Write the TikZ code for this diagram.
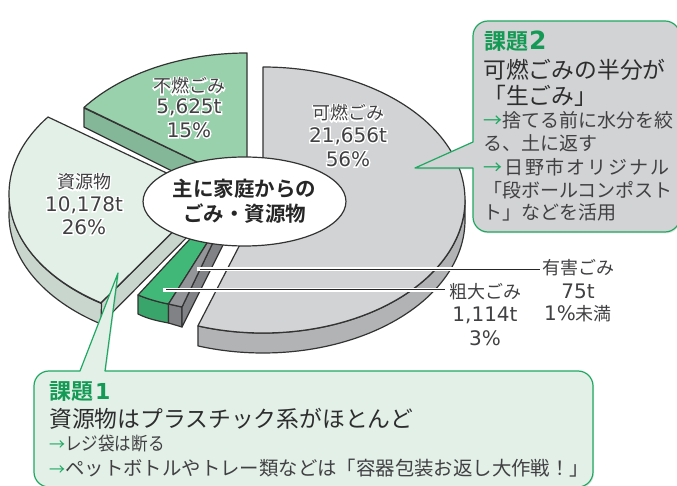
\documentclass[tikz,border=0pt]{standalone}
\usepackage{fontspec}
\usetikzlibrary{shadows,shapes.geometric}
\setmainfont{Noto Sans CJK JP}
\newfontfamily\halofont[FakeBold=14]{Noto Sans CJK JP}
\newfontfamily\halonum[FakeBold=14]{DejaVu Sans}
\newfontfamily\numfont{DejaVu Sans}
\newfontfamily\boldcjk{Noto Sans CJK JP Bold}
\newfontfamily\boldnum{DejaVu Sans Bold}
\definecolor{edge}{HTML}{333333}
\definecolor{ink}{HTML}{414042}
\definecolor{callgreen}{HTML}{1FA862}
\definecolor{titlegreen}{HTML}{149A55}
\definecolor{burnT}{HTML}{D1D3D4}
\definecolor{burnS}{HTML}{B1B3B5}
\definecolor{nonT}{HTML}{99D1AC}
\definecolor{nonS}{HTML}{84B797}
\definecolor{resT}{HTML}{E2F0E7}
\definecolor{resS}{HTML}{C9D6CD}
\definecolor{bigT}{HTML}{41B877}
\definecolor{bigS}{HTML}{3AA56B}
\definecolor{hazT}{HTML}{939598}
\definecolor{hazS}{HTML}{808285}
\newcommand\hl[1]{\makebox[0pt][c]{\color{white}\halofont #1}\makebox[0pt][c]{#1}}
\newcommand\hn[1]{\makebox[0pt][c]{\color{white}\halonum\fontsize{20}{20}\selectfont #1}\makebox[0pt][c]{\numfont\fontsize{20}{20}\selectfont #1}}
\newcommand\nm[1]{{\numfont\fontsize{20}{20}\selectfont #1}}
\newcommand\garrow{{\color{callgreen}→}}
\newcommand\sarrow{\makebox[16pt][l]{\color{callgreen}\fontsize{16}{16}\selectfont →}}
\tikzset{
  slice/.style={draw=edge,line width=1.2pt,line join=round},
  callout/.style={draw=callgreen,line width=1.2pt,line join=round,
    drop shadow={opacity=.18,shadow xshift=1pt,shadow yshift=-1.5pt}},
  pielabel/.style={text=ink,inner sep=0pt,anchor=center,font=\fontsize{18}{18}\selectfont},
  sidelabel/.style={text=ink,inner sep=0pt,anchor=center,font=\fontsize{18}{18}\selectfont},
  ctitle/.style={text=titlegreen,inner sep=0pt,anchor=west,font=\boldcjk\fontsize{22}{22}\selectfont},
  chead/.style={text=ink!70!black,inner sep=0pt,anchor=west,font=\fontsize{22.8}{23}\selectfont},
  cbody/.style={text=ink,inner sep=0pt,anchor=west,font=\fontsize{19}{19}\selectfont},
  leader/.style={draw=white,line width=4pt},
  leaderin/.style={draw=black!85,line width=1.6pt},
}
\begin{document}
\begin{tikzpicture}[x=1pt,y=-1pt]
\useasboundingbox (0,0) rectangle (677,486);
\clip (0,0) rectangle (677,486);
% burnable
\draw[slice,fill=burnS] (198,326) arc[start angle=-108.8,end angle=0,x radius=202pt,y radius=133pt]
  -- (465,220) arc[start angle=0,end angle=-108.8,x radius=202pt,y radius=133pt] -- cycle;
\draw[slice,fill=burnT] (263,67) arc[start angle=90,end angle=-108.8,x radius=202pt,y radius=133pt] -- (263,200) -- cycle;
% non-burnable
\draw[slice,fill=nonS] (84,108) -- (84,127) -- (190,180) -- (247,186) -- cycle;
\draw[slice,fill=nonT] (247,53) arc[start angle=90,end angle=143.8,x radius=202pt,y radius=133pt] -- (247,186) -- cycle;
% resources
\draw[slice,fill=resS] (101,303) -- (101,324) -- (196,228) -- (211,194) -- cycle;
\draw[slice,fill=resS] (9.5,194.5) arc[start angle=180,end angle=237,x radius=202pt,y radius=130pt]
  -- (101,324) arc[start angle=237,end angle=180,x radius=202pt,y radius=130pt] -- cycle;
\draw[slice,fill=resT] (48,117) arc[start angle=143.8,end angle=237,x radius=202pt,y radius=130pt] -- (211,194) -- cycle;
% oversized
\draw[slice,fill=bigS] (138,295) -- (138,314) .. controls (148,319) and (158,321) .. (168.5,323) -- (168.5,304) .. controls (158,302) and (148,299) .. cycle;
\draw[slice,fill=bigT] (138,295) -- (196.5,232) -- (214,232) -- (168.5,304) .. controls (158,302) and (148,299) .. cycle;
% hazardous
\draw[slice,fill=hazS] (168.5,304) -- (182,307) -- (182,327) -- (168.5,323) -- cycle;
\draw[slice,fill=hazS] (182,307) -- (218,232) -- (229.5,232) -- (182,327) -- cycle;
\draw[slice,fill=hazT] (168.5,304) -- (214,232) -- (218,232) -- (182,307) -- cycle;
% pie labels
\node[pielabel] (nonburn1) at (189,86) {\hl{不燃ごみ}};
\node[pielabel] (nonburn2) at (189,107.5) {\hn{5,625t}};
\node[pielabel] (nonburn3) at (189,130) {\hn{15\%}};
\node[pielabel] (res1) at (84,182) {\hl{資源物}};
\node[pielabel] (res2) at (84,205) {\hn{10,178t}};
\node[pielabel] (res3) at (84,227) {\hn{26\%}};
\node[pielabel] (burn1) at (348,113) {\hl{可燃ごみ}};
\node[pielabel] (burn2) at (348,136) {\hn{21,656t}};
\node[pielabel] (burn3) at (348,159) {\hn{56\%}};
% centre
\node[draw=edge,fill=white,line width=1.2pt,ellipse,minimum width=181pt,minimum height=89pt,inner sep=0pt,align=center,text=black!85,
  font=\boldcjk\fontsize{20.5}{25}\selectfont] (centre) at (244.5,201.5) {主に家庭からの\\ごみ・資源物};
% leaders
\coordinate (hazdot) at (197,269.5);
\coordinate (bigdot) at (163,289.5);
\coordinate (hazend) at (540,269.5);
\coordinate (bigend) at (445,289.5);
\draw[leader] (hazdot) -- (hazend);
\draw[leader] (bigdot) -- (bigend);
\draw[leaderin] (hazdot) ++(3,0) -- (hazend);
\draw[leaderin] (bigdot) ++(3,0) -- (bigend);
\node[sidelabel] (haz1) at (578,268) {有害ごみ};
\node[sidelabel] (haz2) at (578,291) {\nm{75t}};
\node[sidelabel] (haz3) at (578,314) {\nm{1\%}未満};
\node[sidelabel] (big1) at (485,292) {粗大ごみ};
\node[sidelabel] (big2) at (485,315) {\nm{1,114t}};
\node[sidelabel] (big3) at (485,338) {\nm{3\%}};
% callout 2
\path[callout,fill=burnT] (488,21) -- (665,21) arc[start angle=90,end angle=0,radius=15pt] -- (680,217)
  arc[start angle=0,end angle=-90,radius=15pt] -- (488,232) arc[start angle=270,end angle=180,radius=15pt]
  -- (473,168) -- (415,168) -- (473,142) -- (473,36) arc[start angle=180,end angle=90,radius=15pt] -- cycle;
\node[ctitle] (t2a) at (484,41) {課題\hspace{1pt}{\boldnum\fontsize{25}{25}\selectfont 2}};
\node[chead] (t2b) at (483,70) {可燃ごみの半分が};
\node[chead] (t2c) at (483,96) {「生ごみ」};
\node[cbody] (t2d) at (483,120) {\garrow 捨てる前に水分を絞};
\node[cbody] (t2e) at (483,143) {る、土に返す};
\node[cbody] (t2f) at (483,167) {\garrow\hspace{2pt}{\addfontfeature{LetterSpace=10}日野市オリジナル}};
\node[cbody] (t2g) at (483,190) {「段ボールコンポスト};
\node[cbody] (t2h) at (483,212) {ト」などを活用};
% callout 1
\path[callout,fill=resT] (49,371) -- (80,371) -- (118,273) -- (105,371) -- (578,371)
  arc[start angle=90,end angle=0,radius=15pt] -- (593,472) arc[start angle=0,end angle=-90,radius=15pt]
  -- (49,487) arc[start angle=270,end angle=180,radius=15pt] -- (34,386) arc[start angle=180,end angle=90,radius=15pt] -- cycle;
\node[ctitle] (t1a) at (49,392) {課題\hspace{2pt}{\boldnum 1}};
\node[chead] (t1b) at (49,419) {資源物はプラスチック系がほとんど};
\node[cbody,font=\fontsize{18.4}{18}\selectfont] (t1c) at (49,444) {\sarrow \scalebox{.9}[1]{レジ袋は断る}};
\node[cbody,font=\fontsize{19.4}{19}\selectfont] (t1d) at (49,468) {\sarrow ペットボトルやトレー類などは「容器包装お返し大作戦！」};
\end{tikzpicture}
\end{document}
